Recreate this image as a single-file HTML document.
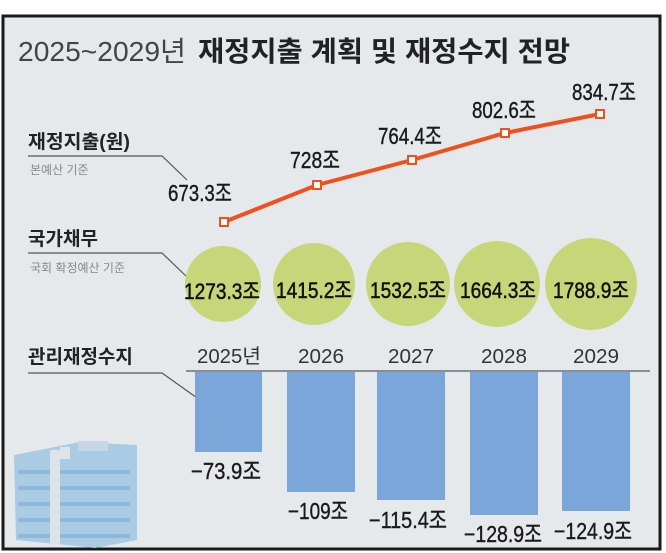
<!DOCTYPE html>
<html><head><meta charset="utf-8"><style>
html,body{margin:0;padding:0;background:#fff;}
svg{display:block;}
text{font-family:"Liberation Sans","Noto Sans CJK KR","NanumGothic",sans-serif;}
</style></head><body>
<svg width="666" height="553" viewBox="0 0 666 553" xmlns="http://www.w3.org/2000/svg">
<rect x="3" y="16" width="657" height="533" fill="#e6e9ec" stroke="#1a1a1a" stroke-width="3"/>
<text x="18" y="61" font-size="28" fill="#444" textLength="168" lengthAdjust="spacingAndGlyphs">2025~2029년</text>
<text x="198" y="61" font-size="28" font-weight="bold" fill="#222" textLength="372" lengthAdjust="spacingAndGlyphs">재정지출 계획 및 재정수지 전망</text>

<text x="28" y="148" font-size="19" font-weight="bold" fill="#222" textLength="102" lengthAdjust="spacingAndGlyphs">재정지출(원)</text>
<polyline points="28,156 162,156 187,180" fill="none" stroke="#555" stroke-width="1.2"/>
<text x="30" y="174" font-size="12" fill="#888">본예산 기준</text>
<text x="28" y="245" font-size="19" font-weight="bold" fill="#222">국가채무</text>
<polyline points="28,253 162,253 187,277" fill="none" stroke="#555" stroke-width="1.2"/>
<text x="30" y="272" font-size="12" fill="#888">국회 확정예산 기준</text>
<text x="28" y="363" font-size="19" font-weight="bold" fill="#222">관리재정수지</text>
<polyline points="28,373 162,373 207,405" fill="none" stroke="#555" stroke-width="1.2"/>

<polyline points="224,222 317,185 412,160 505,133 600,114" fill="none" stroke="#f0501e" stroke-width="4"/>
<g fill="#fff" stroke="#f0501e" stroke-width="2">
<rect x="220" y="218" width="8" height="8"/><rect x="313" y="181" width="8" height="8"/>
<rect x="408" y="156" width="8" height="8"/><rect x="501" y="129" width="8" height="8"/>
<rect x="596" y="110" width="8" height="8"/></g>
<g font-size="23" fill="#1a1a1a" text-anchor="middle" stroke="#1a1a1a" stroke-width="0.4">
<text x="200" y="201" textLength="64" lengthAdjust="spacingAndGlyphs">673.3조</text>
<text x="315" y="168" textLength="50" lengthAdjust="spacingAndGlyphs">728조</text>
<text x="410" y="144" textLength="64" lengthAdjust="spacingAndGlyphs">764.4조</text>
<text x="504" y="118" textLength="64" lengthAdjust="spacingAndGlyphs">802.6조</text>
<text x="604" y="100" textLength="64" lengthAdjust="spacingAndGlyphs">834.7조</text>
</g>

<g fill="#c8d67a">
<circle cx="223" cy="284" r="38"/><circle cx="314" cy="284" r="41"/>
<circle cx="408" cy="284" r="42"/><circle cx="497" cy="284" r="43"/>
<circle cx="591" cy="284" r="46"/></g>
<g font-size="22" fill="#111" text-anchor="middle" stroke="#111" stroke-width="0.5">
<text x="222" y="299" textLength="76" lengthAdjust="spacingAndGlyphs">1273.3조</text>
<text x="314" y="298" textLength="76" lengthAdjust="spacingAndGlyphs">1415.2조</text>
<text x="408" y="298" textLength="76" lengthAdjust="spacingAndGlyphs">1532.5조</text>
<text x="498" y="298" textLength="76" lengthAdjust="spacingAndGlyphs">1664.3조</text>
<text x="591" y="298" textLength="76" lengthAdjust="spacingAndGlyphs">1788.9조</text>
</g>

<g font-size="20" fill="#333" text-anchor="middle">
<text x="229" y="363" textLength="64" lengthAdjust="spacingAndGlyphs">2025년</text>
<text x="321" y="363" textLength="46" lengthAdjust="spacingAndGlyphs">2026</text>
<text x="411" y="363" textLength="46" lengthAdjust="spacingAndGlyphs">2027</text>
<text x="504" y="363" textLength="46" lengthAdjust="spacingAndGlyphs">2028</text>
<text x="596" y="363" textLength="46" lengthAdjust="spacingAndGlyphs">2029</text>
</g>
<g fill="#7ba6da">
<rect x="195" y="372" width="67" height="80"/>
<rect x="287" y="372" width="68" height="120"/>
<rect x="377" y="372" width="68" height="128"/>
<rect x="470" y="372" width="68" height="143"/>
<rect x="562" y="372" width="68" height="139"/>
</g>
<line x1="186" y1="371" x2="650" y2="371" stroke="#8a8f95" stroke-width="2"/>
<g font-size="23" fill="#1a1a1a" text-anchor="middle" stroke="#1a1a1a" stroke-width="0.4">
<text x="226" y="479" textLength="70" lengthAdjust="spacingAndGlyphs">−73.9조</text>
<text x="318" y="519" textLength="60" lengthAdjust="spacingAndGlyphs">−109조</text>
<text x="408" y="528" textLength="78" lengthAdjust="spacingAndGlyphs">−115.4조</text>
<text x="503" y="542" textLength="78" lengthAdjust="spacingAndGlyphs">−128.9조</text>
<text x="593" y="539" textLength="78" lengthAdjust="spacingAndGlyphs">−124.9조</text>
</g>

<g>
<polygon points="14,455 80,442 137,445 137,540 95,548 16,540" fill="#a9cbe3"/>
<g fill="#8fb8d8">
<rect x="18" y="470" width="112" height="4"/><rect x="18" y="486" width="112" height="4"/>
<rect x="18" y="502" width="112" height="4"/><rect x="18" y="518" width="112" height="4"/>
<rect x="18" y="534" width="112" height="4"/></g>
<g fill="#dde4e8"><rect x="50" y="450" width="10" height="95"/><rect x="60" y="447" width="10" height="12"/></g>
<rect x="78" y="441" width="30" height="10" fill="#c6d6e2"/>
</g>
</svg>
</body></html>
